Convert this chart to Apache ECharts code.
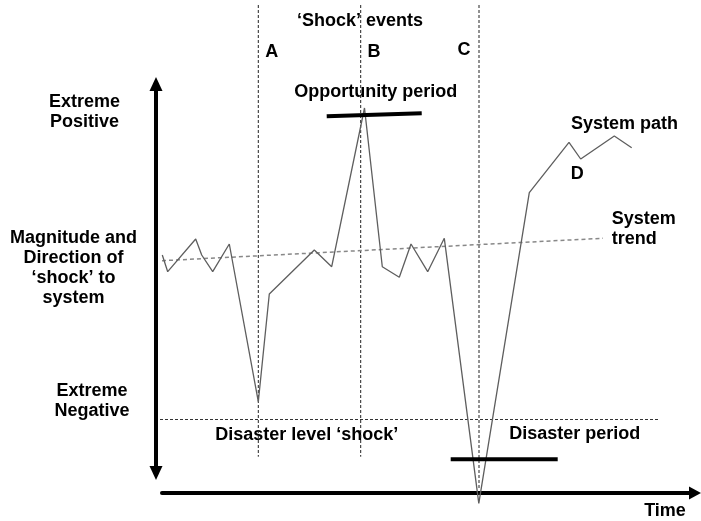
<!DOCTYPE html>
<html>
<head>
<meta charset="utf-8">
<script src="https://cdn.jsdelivr.net/npm/echarts@6/dist/echarts.min.js"></script>
<style>
html,body{margin:0;padding:0;background:#fff;}
#chart{width:701px;height:521px;}
</style>
</head>
<body>
<div id="chart"></div>
<script>
// ---- Data (time units along x, shock magnitude along y; trend level ~ 0) ----
var pathTime  = [2.3, 7.7, 35.7, 41.7, 52.7, 69.3, 98.3, 109.3, 154.3, 171.7, 204.5, 222.3, 239.3, 251, 267.7, 284.3, 318.8, 369.3, 409, 420.7, 454.3, 471.7];
var pathValue = [5, -11.7, 21, 5, -11.7, 16, -141.7, -34, 10, -6.7, 152, -6.7, -17.3, 16, -11.7, 21.7, -243.3, 67.3, 117.7, 101, 124, 112.3];

var trendTime  = [2, 443];
var trendValue = [-0.7, 21.7];

var eventNames = ['A', 'B', 'C'];
var eventTime  = [98.3, 200.7, 319];
var eventTop   = [255, 255, 255];
var eventBottom = [-196.7, -196.7, -230];

var disasterLevelTime  = [0, 500];
var disasterLevelValue = [-159.5, -159.5];

var opportunityTime  = [166.7, 261.7];
var opportunityValue = [143.7, 146.7];

var disasterPeriodTime  = [290.7, 397.7];
var disasterPeriodValue = [-199.3, -199.3];

function zip(xs, ys) { return xs.map(function (x, i) { return [x, ys[i]]; }); }

var FONT = 'Liberation Sans, Arial, Helvetica, sans-serif';
function txt(text, x, y, align, lh) {
  return {
    type: 'text', x: x, y: y, silent: true,
    style: {
      text: text, fill: '#000', font: 'bold 18px ' + FONT,
      textAlign: align || 'center', textVerticalAlign: 'middle',
      lineHeight: lh || 20
    }
  };
}

var series = [];
series.push({
  type: 'line', xAxisIndex: 0, yAxisIndex: 0, data: zip(pathTime, pathValue),
  symbol: 'none', lineStyle: { color: '#5e5e5e', width: 1.3 }, z: 5
});
series.push({
  type: 'line', xAxisIndex: 0, yAxisIndex: 0, data: zip(trendTime, trendValue),
  symbol: 'none', lineStyle: { color: '#888', width: 1.5, type: [4, 3] }, z: 4
});
eventTime.forEach(function (t, i) {
  series.push({
    type: 'line', name: eventNames[i], xAxisIndex: 0, yAxisIndex: 0,
    data: [[t, eventTop[i]], [t, eventBottom[i]]],
    symbol: 'none', lineStyle: { color: '#222', width: 1, type: [3, 2] }, z: 3
  });
});
series.push({
  type: 'line', xAxisIndex: 0, yAxisIndex: 0, data: zip(disasterLevelTime, disasterLevelValue),
  symbol: 'none', lineStyle: { color: '#333', width: 1, type: [3, 2] }, z: 3
});
series.push({
  type: 'line', xAxisIndex: 0, yAxisIndex: 0, data: zip(opportunityTime, opportunityValue),
  symbol: 'none', lineStyle: { color: '#000', width: 4 }, z: 6
});
series.push({
  type: 'line', xAxisIndex: 0, yAxisIndex: 0, data: zip(disasterPeriodTime, disasterPeriodValue),
  symbol: 'none', lineStyle: { color: '#000', width: 4 }, z: 6
});

var option = {
  animation: false,
  backgroundColor: '#fff',
  grid: [
    { left: 0, right: 0, top: 0, bottom: 0 },
    { left: 156, width: 10, top: 84, height: 389 },
    { left: 162, width: 533, bottom: 28, height: 10 }
  ],
  xAxis: [
    { type: 'value', gridIndex: 0, min: -160, max: 541, show: false },
    { type: 'value', gridIndex: 1, min: 0, max: 1, show: false },
    { type: 'value', gridIndex: 2, min: 0, max: 1, position: 'bottom',
      axisLine: { show: true, symbol: ['none', 'triangle'], symbolSize: [13, 12],
                  lineStyle: { color: '#000', width: 4 } },
      axisTick: { show: false }, axisLabel: { show: false }, splitLine: { show: false } }
  ],
  yAxis: [
    { type: 'value', gridIndex: 0, min: -261, max: 260, show: false },
    { type: 'value', gridIndex: 1, min: 0, max: 1, position: 'left',
      axisLine: { show: true, symbol: ['triangle', 'triangle'], symbolSize: [13, 14],
                  lineStyle: { color: '#000', width: 4 } },
      axisTick: { show: false }, axisLabel: { show: false }, splitLine: { show: false } },
    { type: 'value', gridIndex: 2, min: 0, max: 1, show: false }
  ],
  series: series,
  graphic: [
    txt('\u2018Shock\u2019 events', 360, 21),
    txt('A', 271.7, 52),
    txt('B', 374, 52),
    txt('C', 464, 50),
    txt('Opportunity period', 375.8, 92),
    txt('Extreme\nPositive', 84.5, 112.2, 'center', 20.5),
    txt('Magnitude and\nDirection of\n\u2018shock\u2019 to\nsystem', 73.5, 268.3, 'center', 20),
    txt('Extreme\nNegative', 92, 401, 'center', 20),
    txt('System path', 624.5, 124),
    txt('D', 577.2, 174),
    txt('System\ntrend', 611.7, 229.2, 'left', 20.5),
    txt('Disaster level \u2018shock\u2019', 306.7, 435),
    txt('Disaster period', 574.7, 434.5),
    txt('Time', 665, 511)
  ]
};

var chart = echarts.init(document.getElementById('chart'), null, { renderer: 'canvas' });
chart.setOption(option);
</script>
</body>
</html>
